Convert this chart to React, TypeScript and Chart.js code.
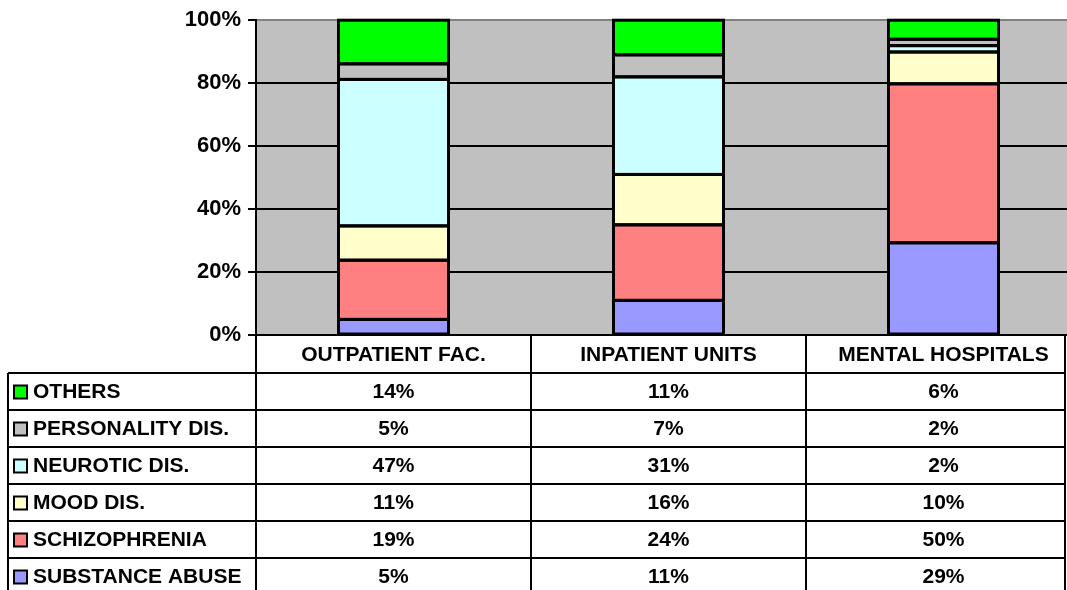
import React, { useEffect, useRef } from "react";
import { Chart, registerables } from "chart.js";

Chart.register(...registerables);

const categories = ["OUTPATIENT FAC.", "INPATIENT UNITS", "MENTAL HOSPITALS"];
const seriesNames = ["SUBSTANCE ABUSE", "SCHIZOPHRENIA", "MOOD DIS.", "NEUROTIC DIS.", "PERSONALITY DIS.", "OTHERS"];
const substanceAbuse = [5, 11, 29];
const schizophrenia = [19, 24, 50];
const moodDis = [11, 16, 10];
const neuroticDis = [47, 31, 2];
const personalityDis = [5, 7, 2];
const others = [14, 11, 6];
const seriesColors = ["#9999FF", "#FF8080", "#FFFFCC", "#CCFFFF", "#C0C0C0", "#00FF00"];
const yTicks = [0, 20, 40, 60, 80, 100];

const FONT = "Arial, 'Liberation Sans', sans-serif";

export default function App() {
  const ref = useRef<HTMLCanvasElement>(null);
  useEffect(() => {
    const series = [substanceAbuse, schizophrenia, moodDis, neuroticDis, personalityDis, others];
    const sums = categories.map((_, i) => series.reduce((s, arr) => s + arr[i], 0));
    const datasets = series.map((arr, k) => ({
      label: seriesNames[k],
      data: arr.map((v, i) => (v / sums[i]) * 100),
      backgroundColor: seriesColors[k],
      borderWidth: 0,
      inflateAmount: 0,
      categoryPercentage: 1,
      barPercentage: 0.4,
    }));

    const bgPlugin = {
      id: "bg",
      beforeDraw(chart: any) {
        const { ctx, chartArea: a } = chart;
        ctx.save();
        ctx.fillStyle = "#C0C0C0";
        ctx.fillRect(a.left, a.top, a.right - a.left, a.bottom - a.top);
        ctx.restore();
      },
    };

    const borderPlugin = {
      id: "barBorders",
      afterDatasetsDraw(chart: any) {
        const { ctx } = chart;
        ctx.save();
        ctx.strokeStyle = "#000";
        ctx.lineWidth = 3;
        chart.data.datasets.forEach((_: any, di: number) => {
          const meta = chart.getDatasetMeta(di);
          meta.data.forEach((bar: any) => {
            const { x, y, base, width } = bar.getProps(["x", "y", "base", "width"], true);
            ctx.strokeRect(x - width / 2, y, width, base - y);
          });
        });
        ctx.restore();
      },
    };

    const tablePlugin = {
      id: "table",
      afterDraw(chart: any) {
        const { ctx, chartArea: a } = chart;
        const x = chart.scales.x;
        const catW = (a.right - a.left) / categories.length;
        const top = a.bottom;
        const headerH = 38;
        const rowH = 37;
        const tableLeft = 8;
        const rightEdge = 1065;
        const bottom = 600;
        const headerBottom = top + headerH;
        ctx.save();
        ctx.strokeStyle = "#000";
        ctx.lineWidth = 2;
        const line = (x1: number, y1: number, x2: number, y2: number) => {
          ctx.beginPath();
          ctx.moveTo(x1, y1);
          ctx.lineTo(x2, y2);
          ctx.stroke();
        };
        for (let r = 0; r <= seriesNames.length; r++) {
          const y = headerBottom + r * rowH;
          line(tableLeft, y, rightEdge + 1, y);
        }
        line(tableLeft, headerBottom, tableLeft, bottom);
        line(a.left, top, a.left, bottom);
        for (let i = 0; i < categories.length - 1; i++) {
          const bx = x.getPixelForValue(i) + catW / 2;
          line(bx, top, bx, bottom);
        }
        line(rightEdge, top, rightEdge, bottom);

        ctx.fillStyle = "#000";
        ctx.font = `bold 21px ${FONT}`;
        ctx.textBaseline = "middle";
        ctx.textAlign = "center";
        categories.forEach((c, i) => {
          ctx.fillText(c, x.getPixelForValue(i), top + headerH / 2 + 1);
        });
        const series = [substanceAbuse, schizophrenia, moodDis, neuroticDis, personalityDis, others];
        for (let r = 0; r < seriesNames.length; r++) {
          const k = seriesNames.length - 1 - r;
          const cy = headerBottom + r * rowH + rowH / 2 + 1;
          ctx.fillStyle = seriesColors[k];
          ctx.fillRect(14, cy - 7, 13, 13);
          ctx.strokeRect(14, cy - 7, 13, 13);
          ctx.fillStyle = "#000";
          ctx.textAlign = "left";
          ctx.fillText(seriesNames[k], 33, cy);
          ctx.textAlign = "center";
          categories.forEach((_, i) => {
            ctx.fillText(series[k][i] + "%", x.getPixelForValue(i), cy);
          });
        }
        ctx.restore();
      },
    };

    const chart = new Chart(ref.current!, {
      type: "bar",
      data: { labels: categories, datasets },
      options: {
        responsive: false,
        animation: false,
        devicePixelRatio: 1,
        layout: { padding: { top: 18, bottom: 255, left: 0, right: 1 } },
        plugins: { legend: { display: false }, tooltip: { enabled: false } },
        scales: {
          x: { stacked: true, display: false },
          y: {
            stacked: true,
            min: 0,
            max: 100,
            afterFit: (s: any) => {
              s.width = 256;
            },
            afterBuildTicks: (s: any) => {
              s.ticks = yTicks.map((v) => ({ value: v }));
            },
            ticks: {
              callback: (v: any) => `${v}%`,
              color: "#000",
              padding: 7,
              font: { family: FONT, size: 22, weight: "bold" },
            },
            grid: {
              color: (c: any) => (c.tick && c.tick.value === 100 ? "#808080" : "#000"),
              tickColor: "#000",
              lineWidth: 2,
              tickLength: 8,
            },
            border: { display: true, color: "#000", width: 2 },
          },
        },
      },
      plugins: [bgPlugin, borderPlugin, tablePlugin],
    });
    return () => chart.destroy();
  }, []);

  return (
    <div style={{ position: "absolute", left: 0, top: 0, width: 1067, height: 590, overflow: "hidden", background: "#fff" }}>
      <canvas ref={ref} width={1082} height={590} style={{ display: "block" }} />
    </div>
  );
}
